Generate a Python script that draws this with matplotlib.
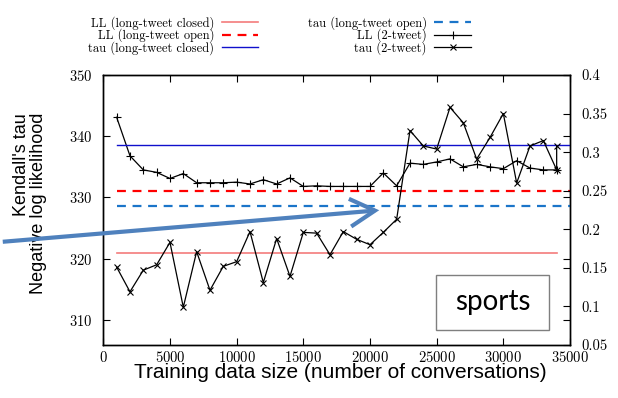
import matplotlib
matplotlib.use("Agg")
import matplotlib.pyplot as plt
from matplotlib.ticker import FormatStrFormatter
from matplotlib.patches import Rectangle, FancyArrowPatch

plt.rcParams['font.family'] = 'cmr10'
plt.rcParams['axes.formatter.use_mathtext'] = True

# training data size (number of conversations)
sizes = [1000, 2000, 3000, 4000, 5000, 6000, 7000, 8000, 9000, 10000,
         11000, 12000, 13000, 14000, 15000, 16000, 17000, 18000, 19000, 20000,
         21000, 22000, 23000, 24000, 25000, 26000, 27000, 28000, 29000, 30000,
         31000, 32000, 33000, 34000]

# negative log likelihood, 2-tweet model (left axis)
ll_2tweet = [343.1, 336.8, 334.5, 334.1, 333.1, 333.9, 332.4, 332.4, 332.4, 332.5,
             332.2, 332.9, 332.2, 333.2, 331.8, 331.9, 331.8, 331.8, 331.8, 331.8,
             334.0, 331.9, 335.6, 335.4, 335.8, 336.3, 335.0, 335.4, 335.0, 334.7,
             336.0, 334.8, 334.5, 334.5]

# Kendall's tau, 2-tweet model (right axis), last size has two runs
tau_sizes = sizes + [34000]
tau_2tweet = [0.151, 0.119, 0.147, 0.154, 0.183, 0.099, 0.171, 0.121, 0.152, 0.158,
              0.197, 0.131, 0.188, 0.139, 0.196, 0.195, 0.167, 0.197, 0.187, 0.180,
              0.196, 0.213, 0.328, 0.308, 0.304, 0.358, 0.338, 0.291, 0.319, 0.350,
              0.260, 0.308, 0.315, 0.277, 0.308]

# long-tweet baselines
ll_closed = 321.0
ll_open = 331.0
tau_closed = 0.309
tau_open = 0.2306

fig = plt.figure(figsize=(6.18, 3.98), dpi=100)
ax = fig.add_axes([103.3 / 618, 1 - 345 / 398, (570 - 103.3) / 618, 270 / 398])
ax2 = ax.twinx()

l1, = ax.plot([1000, 34000], [ll_closed, ll_closed], color='#f47c7c', lw=1.2,
              label='LL (long-tweet closed)')
l2, = ax.plot([1000, 35000], [ll_open, ll_open], color='#ff0000', lw=1.6,
              dashes=(4, 3), label='LL (long-tweet open)')
l3, = ax2.plot([1000, 35000], [tau_closed, tau_closed], color='#1010cc', lw=1.0,
               label='tau (long-tweet closed)')
l4, = ax2.plot([1000, 35000], [tau_open, tau_open], color='#1b75c9', lw=1.6,
               dashes=(4, 3), label='tau (long-tweet open)')
l5, = ax.plot(sizes, ll_2tweet, color='black', lw=0.9, marker='+', ms=5.5,
              mew=0.8, label='LL (2-tweet)')
l6, = ax2.plot(tau_sizes, tau_2tweet, color='black', lw=0.9, marker='x', ms=4.5,
               mew=0.8, label='tau (2-tweet)')

ax.set_xlim(0, 35000)
ax.set_ylim(305.9, 350)
ax2.set_ylim(0.05, 0.4)
ax.set_xticks(range(0, 35001, 5000))
ax.set_yticks([310, 320, 330, 340, 350])
ax2.set_yticks([0.05, 0.1, 0.15, 0.2, 0.25, 0.3, 0.35, 0.4])
ax2.yaxis.set_major_formatter(FormatStrFormatter('%g'))

ax.tick_params(direction='in', length=5, width=0.8, labelsize=10.5,
               top=True, right=True, pad=3.5)
ax.tick_params(axis='y', pad=8)
ax2.tick_params(direction='in', length=5, width=0.8, labelsize=10.5, pad=8)
for a in (ax, ax2):
    for s in a.spines.values():
        s.set_linewidth(1.0)

# "sports" box
ax.add_patch(Rectangle((436 / 618, 68 / 398), 113 / 618, 55 / 398,
                       transform=fig.transFigure, fill=True, facecolor='white',
                       edgecolor='#7f7f7f', lw=1.0, zorder=5, clip_on=False))
fig.text(492.5 / 618, 1 - 302 / 398, 'sports', family='Lato', fontsize=20,
         ha='center', va='center', zorder=6)

fig.text(340 / 618, 1 - 373 / 398, 'Training data size (number of conversations)',
         family='Liberation Sans', fontsize=15, ha='center', va='center')
fig.text(30 / 618, 1 - 113 / 398, "Kendall's tau\nNegative log likelihood",
         family='Liberation Sans', fontsize=13, rotation=90, ha='center',
         va='top', multialignment='right', linespacing=1.05)

fig.legend(handles=[l1, l2, l3, l4, l5, l6], ncol=2, markerfirst=False,
           frameon=False, loc='upper left', bbox_to_anchor=(88 / 618, 1 - 16 / 398),
           fontsize=9, borderpad=0, borderaxespad=0, labelspacing=-0.1,
           handlelength=2.9, handletextpad=0.6, columnspacing=4.0)

# arrow pointing at the open-tweet baseline
fig.add_artist(FancyArrowPatch(
    (0, 398 - 242), (382, 398 - 210), transform=None,
    arrowstyle='->,head_length=9,head_width=5', color='#4f81bd', lw=3,
    mutation_scale=2, zorder=10, capstyle='butt', joinstyle='miter'))

fig.savefig('out.png', dpi=100)
